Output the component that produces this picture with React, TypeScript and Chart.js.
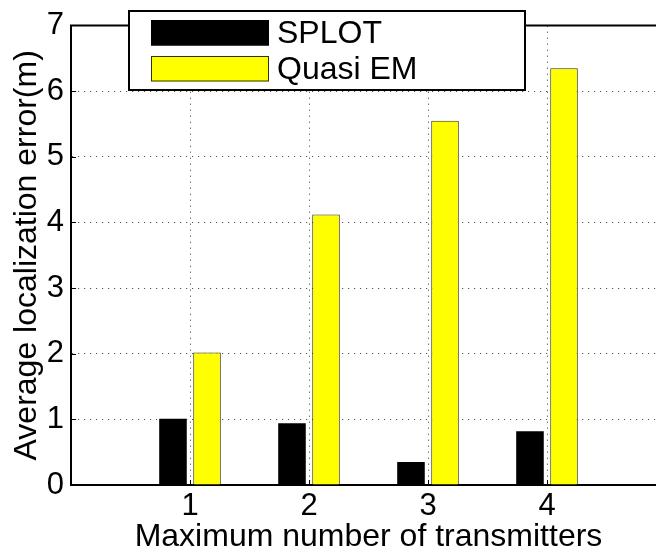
import React, { useEffect, useRef } from "react";
import { Chart, registerables } from "chart.js";

Chart.register(...registerables);

const categories = [1, 2, 3, 4];
const splotValues = [1.01, 0.94, 0.35, 0.82];
const quasiEmValues = [2.02, 4.12, 5.55, 6.35];
const seriesNames = ["SPLOT", "Quasi EM"];
const yTicks = [0, 1, 2, 3, 4, 5, 6, 7];
const xLabel = "Maximum number of transmitters";
const yLabel = "Average localization error(m)";

const FONT = "'Liberation Sans', Arial, Helvetica, sans-serif";
const YELLOW = "#ffff00";

const axesPlugin = {
  id: "matlabAxes",
  afterDatasetsDraw(chart: any) {
    const { ctx, chartArea, scales } = chart;
    ctx.save();
    ctx.strokeStyle = "#000";
    ctx.lineWidth = 2;
    ctx.beginPath();
    ctx.moveTo(chartArea.left - 1, chartArea.top);
    ctx.lineTo(chartArea.right + 20, chartArea.top);
    ctx.stroke();
    // inward tick marks
    ctx.lineWidth = 1;
    ctx.beginPath();
    yTicks.forEach((v) => {
      if (v <= 0 || v >= 7) return;
      const y = Math.round(scales.y.getPixelForValue(v)) + 0.5;
      ctx.moveTo(chartArea.left, y);
      ctx.lineTo(chartArea.left + 5, y);
    });
    categories.forEach((v) => {
      const x = Math.round(scales.x.getPixelForValue(v)) + 0.5;
      ctx.moveTo(x, chartArea.bottom);
      ctx.lineTo(x, chartArea.bottom - 5);
    });
    ctx.stroke();
    ctx.restore();
  },
  afterDraw(chart: any) {
    const { ctx } = chart;
    ctx.save();
    const bx = 129, by = 11, bw = 396, bh = 79;
    ctx.fillStyle = "#fff";
    ctx.fillRect(bx, by, bw, bh);
    ctx.strokeStyle = "#000";
    ctx.lineWidth = 2;
    ctx.strokeRect(bx, by, bw, bh);
    const colors = ["#000", YELLOW];
    const rows = [20, 56];
    ctx.font = `32px ${FONT}`;
    ctx.textBaseline = "middle";
    ctx.textAlign = "left";
    seriesNames.forEach((name, i) => {
      ctx.fillStyle = colors[i];
      ctx.fillRect(151, rows[i], 118, 25.5);
      ctx.lineWidth = 1;
      ctx.strokeStyle = i === 0 ? "#000" : "#333300";
      ctx.strokeRect(151.5, rows[i] + 0.5, 117, 24.5);
      ctx.fillStyle = "#000";
      ctx.fillText(name, 277, rows[i] + 14);
    });
    ctx.restore();
  },
};

export default function App() {
  const canvasRef = useRef<HTMLCanvasElement | null>(null);

  useEffect(() => {
    document.body.style.margin = "0";
    const canvas = canvasRef.current;
    if (!canvas) return;
    const chart = new Chart(canvas, {
      type: "bar",
      data: {
        datasets: [
          {
            label: seriesNames[0],
            data: categories.map((c, i) => ({ x: c, y: splotValues[i] })),
            backgroundColor: "#000",
            borderColor: "#000",
            borderWidth: 0,
          },
          {
            label: seriesNames[1],
            data: categories.map((c, i) => ({ x: c, y: quasiEmValues[i] })),
            backgroundColor: YELLOW,
            borderColor: "#333300",
            borderWidth: 1,
          },
        ],
      },
      options: {
        responsive: false,
        animation: false,
        devicePixelRatio: 1,
        categoryPercentage: 0.572,
        barPercentage: 0.81,
        layout: { padding: { top: 23, right: 14, left: 0, bottom: 0 } },
        plugins: {
          legend: { display: false },
          tooltip: { enabled: false },
          title: { display: false },
        },
        scales: {
          x: {
            type: "linear",
            min: 0,
            max: 5,
            offset: false,
            afterFit: (s: any) => {
              s.height = 68;
            },
            afterBuildTicks: (s: any) => {
              s.ticks = [0, 1, 2, 3, 4, 5].map((v) => ({ value: v }));
            },
            ticks: {
              stepSize: 1,
              padding: 3,
              color: "#000",
              font: { family: FONT, size: 31 },
              maxRotation: 0,
              autoSkip: false,
              callback: (v: any) => (categories.includes(Number(v)) ? String(v) : ""),
            },
            grid: {
              offset: false,
              drawTicks: false,
              lineWidth: 1,
              color: (c: any) =>
                c.tick && categories.includes(c.tick.value) ? "#555" : "rgba(0,0,0,0)",
            },
            border: { display: true, color: "#000", width: 2, dash: [1.2, 4.8] },
            title: {
              display: true,
              text: xLabel,
              color: "#000",
              font: { family: FONT, size: 32, lineHeight: 1 },
              padding: { top: 0, bottom: 0 },
            },
          },
          y: {
            type: "linear",
            min: 0,
            max: 7,
            afterFit: (s: any) => {
              s.width = 71;
            },
            afterBuildTicks: (s: any) => {
              s.ticks = yTicks.map((v) => ({ value: v }));
            },
            ticks: {
              padding: 7,
              color: "#000",
              font: { family: FONT, size: 31 },
            },
            grid: {
              drawTicks: false,
              lineWidth: 1,
              color: (c: any) =>
                c.tick && c.tick.value > 0 && c.tick.value < 7 ? "#555" : "rgba(0,0,0,0)",
            },
            border: { display: true, color: "#000", width: 2, dash: [1.2, 4.8] },
            title: {
              display: true,
              text: yLabel,
              color: "#000",
              font: { family: FONT, size: 32, lineHeight: 1 },
              padding: { top: 11, bottom: 0 },
            },
          },
        },
      },
      plugins: [axesPlugin],
    } as any);
    return () => chart.destroy();
  }, []);

  return (
    <div style={{ width: 656, height: 553, overflow: "hidden", background: "#fff" }}>
      <canvas ref={canvasRef} width={680} height={553} style={{ display: "block" }} />
    </div>
  );
}
